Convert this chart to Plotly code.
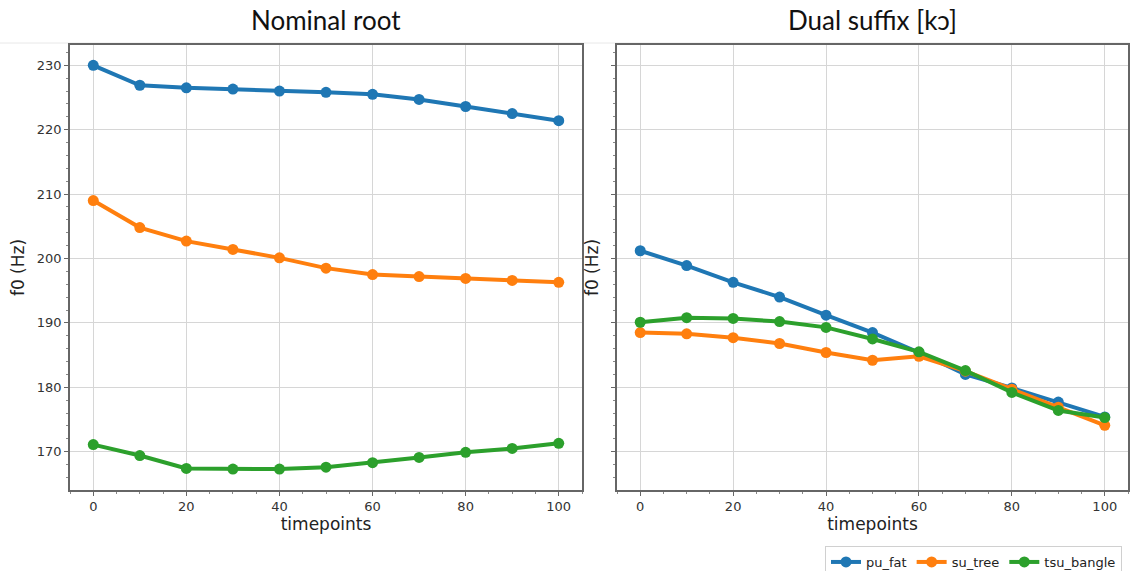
import plotly.graph_objects as go

# Measurement timepoints (% of vowel duration)
timepoints = [0, 10, 20, 30, 40, 50, 60, 70, 80, 90, 100]

# f0 contours (Hz) for the nominal root
root_pu_fat = [230.0, 226.9, 226.5, 226.3, 226.0, 225.8, 225.5, 224.7, 223.6, 222.5, 221.4]
root_su_tree = [209.0, 204.8, 202.7, 201.4, 200.1, 198.5, 197.5, 197.2, 196.9, 196.6, 196.3]
root_tsu_bangle = [171.1, 169.4, 167.4, 167.3, 167.3, 167.6, 168.3, 169.1, 169.9, 170.5, 171.3]

# f0 contours (Hz) for the dual suffix [kɔ]
dual_pu_fat = [201.2, 198.9, 196.3, 194.0, 191.2, 188.5, 185.4, 182.0, 179.9, 177.7, 175.4]
dual_su_tree = [188.5, 188.3, 187.7, 186.8, 185.4, 184.2, 184.8, 182.5, 179.7, 176.9, 174.1]
dual_tsu_bangle = [190.1, 190.8, 190.7, 190.2, 189.3, 187.5, 185.5, 182.6, 179.2, 176.4, 175.3]

series_names = ["pu_fat", "su_tree", "tsu_bangle"]
colors = ["#1f77b4", "#ff7f0e", "#2ca02c"]

panel_titles = ["Nominal root", "Dual suffix [kɔ]"]

W, H = 1130, 571

fig = go.Figure()

panels = [
    ("x", "y", [root_pu_fat, root_su_tree, root_tsu_bangle], True),
    ("x2", "y2", [dual_pu_fat, dual_su_tree, dual_tsu_bangle], False),
]
for xa, ya, data, show in panels:
    for name, vals, col in zip(series_names, data, colors):
        fig.add_trace(go.Scatter(
            x=timepoints, y=vals, name=name, xaxis=xa, yaxis=ya,
            mode="lines+markers", showlegend=show,
            line=dict(color=col, width=4),
            marker=dict(color=col, size=11),
        ))

tick_font = dict(family="DejaVu Sans", size=13, color="#333333")
label_font = dict(family="DejaVu Sans", size=17, color="#222222")

y_top, y_bot = 45, 490
ydom = [1 - y_bot / H, 1 - y_top / H]
xdom1 = [70 / W, 582 / W]
xdom2 = [617 / W, 1128 / W]

common_x = dict(
    range=[-5, 105], tickvals=[0, 20, 40, 60, 80, 100],
    showgrid=True, gridcolor="#d6d6d6", gridwidth=1,
    showline=True, mirror=True, linecolor="#666666", linewidth=1.5,
    ticks="outside", ticklen=4, tickcolor="#666666", tickfont=tick_font,
    minor=dict(dtick=5, tick0=0, ticks="outside", ticklen=2, tickcolor="#888888", showgrid=False),
    zeroline=False,
    title=dict(text="timepoints", font=label_font, standoff=2),
)
common_y = dict(
    range=[164.05, 233.15], tickvals=[170, 180, 190, 200, 210, 220, 230],
    showgrid=True, gridcolor="#d6d6d6", gridwidth=1,
    showline=True, mirror=True, linecolor="#666666", linewidth=1.5,
    ticks="outside", ticklen=4, tickcolor="#666666", tickfont=tick_font,
    minor=dict(dtick=2, tick0=0, ticks="outside", ticklen=2, tickcolor="#888888", showgrid=False),
    zeroline=False,
    title=dict(text="f0 (Hz)", font=label_font, standoff=8),
    domain=ydom,
)

fig.update_layout(
    width=W, height=H,
    margin=dict(l=0, r=0, t=0, b=0, autoexpand=False),
    paper_bgcolor="white", plot_bgcolor="white",
    xaxis=dict(domain=xdom1, anchor="y", **common_x),
    xaxis2=dict(domain=xdom2, anchor="y2", **common_x),
    yaxis=dict(anchor="x", **common_y),
    yaxis2=dict(anchor="x2", matches="y", showticklabels=False, **common_y),
    legend=dict(
        orientation="h", x=1122 / W, xanchor="right", y=1 - 546 / H, yanchor="top",
        bordercolor="#d0d0d0", borderwidth=1, bgcolor="white",
        font=dict(family="DejaVu Sans", size=13, color="#222222"),
        itemwidth=30, tracegroupgap=0,
    ),
    showlegend=True,
)

for txt, dom in zip(panel_titles, [xdom1, xdom2]):
    fig.add_annotation(
        text=txt, x=(dom[0] + dom[1]) / 2, y=1 - 20 / H,
        xref="paper", yref="paper", xanchor="center", yanchor="middle",
        showarrow=False, font=dict(family="Lato", size=26, color="#111111"),
    )

# faint rule under the headings
fig.add_shape(type="line", xref="paper", yref="paper",
              x0=0, x1=1, y0=1 - 43 / H, y1=1 - 43 / H,
              line=dict(color="#e8e8e8", width=1), layer="below")

fig.write_html("out.html")
